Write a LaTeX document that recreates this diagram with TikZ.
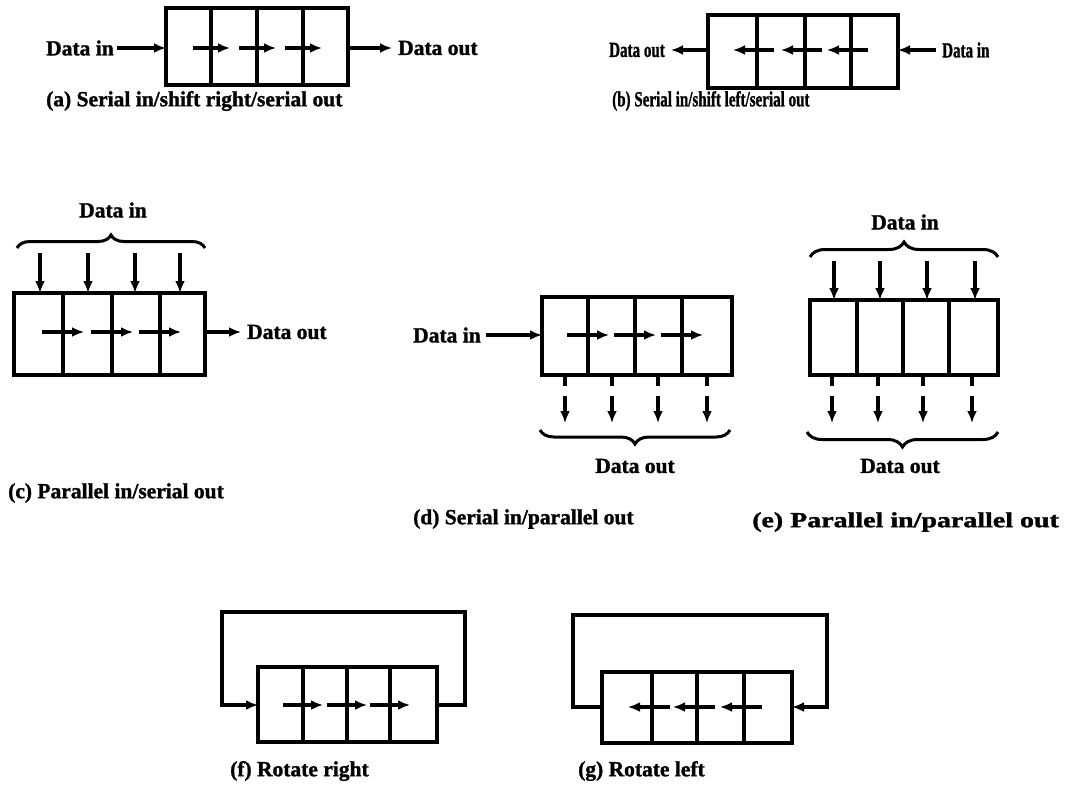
\documentclass[tikz,border=0pt]{standalone}
\usepackage{fontspec}
\setmainfont{Liberation Serif}[BoldFeatures={FakeBold=1.3}]
\usetikzlibrary{arrows.meta,decorations.pathreplacing}
\newcommand\lblfnt{\fontsize{21.5}{24}\selectfont\bfseries}
\newcommand\narrowtxt[1]{\scalebox{0.7}[1]{#1}}
\newcommand\widetxt[1]{\scalebox{1.3}[1]{#1}}
\begin{document}
\begin{tikzpicture}[x=1pt,y=-1pt,
  reg/.style={draw, line width=4.5pt, inner sep=0pt, outer sep=0pt},
  divl/.style={line width=4pt},
  sig/.style={line width=3.6pt, -{Latex[length=12pt,width=10pt]}},
  wire/.style={line width=3.6pt},
  lbl/.style={font=\lblfnt, inner sep=0pt},
  brc/.style={decorate, decoration={brace, amplitude=#1}, line width=3pt},
  line join=miter]
\useasboundingbox (0,0) rectangle (1073,793);

% (a)
\node[lbl, anchor=west] (ain) at (46,48) {Data in};
\node[reg, minimum width=182, minimum height=77] (ra) at (257,46.5) {};
\foreach \x in {211,257,303} {\draw[divl] (\x,8) -- (\x,85);
  \draw[sig] (\x-18,48) -- (\x+19,48);}
\node[lbl, anchor=west] (aout) at (398,48) {Data out};
\draw[sig, shorten <=3pt] (ain.east) -- (ain.east -| ra.west);
\draw[sig, shorten >=6pt] (aout.west -| ra.east) -- (aout.west);
\node[lbl, anchor=west] (capa) at (46,101) {(a) Serial in/shift right/serial out};

% (b)
\node[reg, minimum width=190, minimum height=73] (rb) at (803,51.5) {};
\foreach \x in {757,805,851} {\draw[divl] (\x,15) -- (\x,88);
  \draw[sig] (\x+17,50) -- (\x-24,50);}
\node[lbl, anchor=east] (bout) at (665,50) {\narrowtxt{Data out}};
\node[lbl, anchor=west] (bin) at (942,50) {\narrowtxt{Data in}};
\draw[sig, shorten >=6pt] (bout.east -| rb.west) -- (bout.east);
\draw[sig, shorten <=6pt] (bin.west) -- (bin.west -| rb.east);
\node[lbl, anchor=west] (capb) at (612,101) {\narrowtxt{(b) Serial in/shift left/serial out}};

% (c)
\node[lbl] (cin) at (113,210) {Data in};
\draw[brc=13pt] (17,248) -- (205,248);
\node[reg, minimum width=191, minimum height=82] (rc) at (109.5,334) {};
\foreach \x in {40,88,135,180} {\coordinate (t) at (\x,253);
  \draw[sig] (t) -- (t |- rc.north);}
\foreach \x in {63,112,160} {\draw[divl] (\x,293) -- (\x,375);
  \draw[sig] (\x-21,332) -- (\x+21,332);}
\node[lbl, anchor=west] (cout) at (247,332) {Data out};
\draw[sig, shorten >=6pt] (cout.west -| rc.east) -- (cout.west);
\node[lbl, anchor=west] (capc) at (8,493) {(c) Parallel in/serial out};

% (d)
\node[lbl, anchor=west] (din) at (413,335) {Data in};
\node[reg, minimum width=190, minimum height=78] (rd) at (637,336) {};
\draw[sig, shorten <=5pt] (din.east) -- (din.east -| rd.west);
\foreach \x in {588,635,682} {\draw[divl] (\x,297) -- (\x,375);
  \draw[sig] (\x-21,335) -- (\x+21,335);}
\foreach \x in {565,612,658,707} {\coordinate (t) at (\x,386);
  \draw[wire] (t |- rd.south) -- (t);
  \draw[sig] (\x,396) -- (\x,423);}
\draw[brc=14pt] (730,430) -- (540,430);
\node[lbl] (dout) at (635,466) {Data out};
\node[lbl, anchor=west] (capd) at (413,519) {(d) Serial in/parallel out};

% (e)
\node[lbl] (ein) at (905,222) {Data in};
\draw[brc=15pt] (810,257) -- (998,257);
\node[reg, minimum width=188, minimum height=75] (re) at (904,337.5) {};
\foreach \x in {834,880,927,975} {\coordinate (t) at (\x,261);
  \draw[sig] (t) -- (t |- re.north);}
\foreach \x in {857,903,949} \draw[divl] (\x,300) -- (\x,375);
\foreach \x in {832,878,923,972} {\coordinate (t) at (\x,386);
  \draw[wire] (t |- re.south) -- (t);
  \draw[sig] (\x,396) -- (\x,423);}
\draw[brc=15pt] (998,432) -- (807,432);
\node[lbl] (eout) at (900,466) {Data out};
\node[lbl, anchor=west] (cape) at (752,522) {\widetxt{(e) Parallel in/parallel out}};

% (f)
\node[reg, minimum width=179, minimum height=75] (rf) at (347.5,704.5) {};
\foreach \x in {303,347,390} {\draw[divl] (\x,667) -- (\x,742);
  \draw[sig] (\x-20,705) -- (\x+20,705);}
\coordinate (fr) at (465,705);
\coordinate (fl) at (222,705);
\draw[sig] (rf.east |- fr) -- (fr) |- (222,612) -- (fl) -- (fl -| rf.west);
\node[lbl, anchor=west] (capf) at (230,771) {(f) Rotate right};

% (g)
\node[reg, minimum width=190, minimum height=71] (rg) at (697,707.5) {};
\foreach \x in {652,697,744} {\draw[divl] (\x,672) -- (\x,743);
  \draw[sig] (\x+18,707) -- (\x-24,707);}
\coordinate (gl) at (573,707);
\coordinate (gr) at (827,707);
\draw[sig] (rg.west |- gl) -- (gl) |- (827,615) -- (gr) -- (gr -| rg.east);
\node[lbl, anchor=west] (capg) at (578,771) {(g) Rotate left};
\end{tikzpicture}
\end{document}
